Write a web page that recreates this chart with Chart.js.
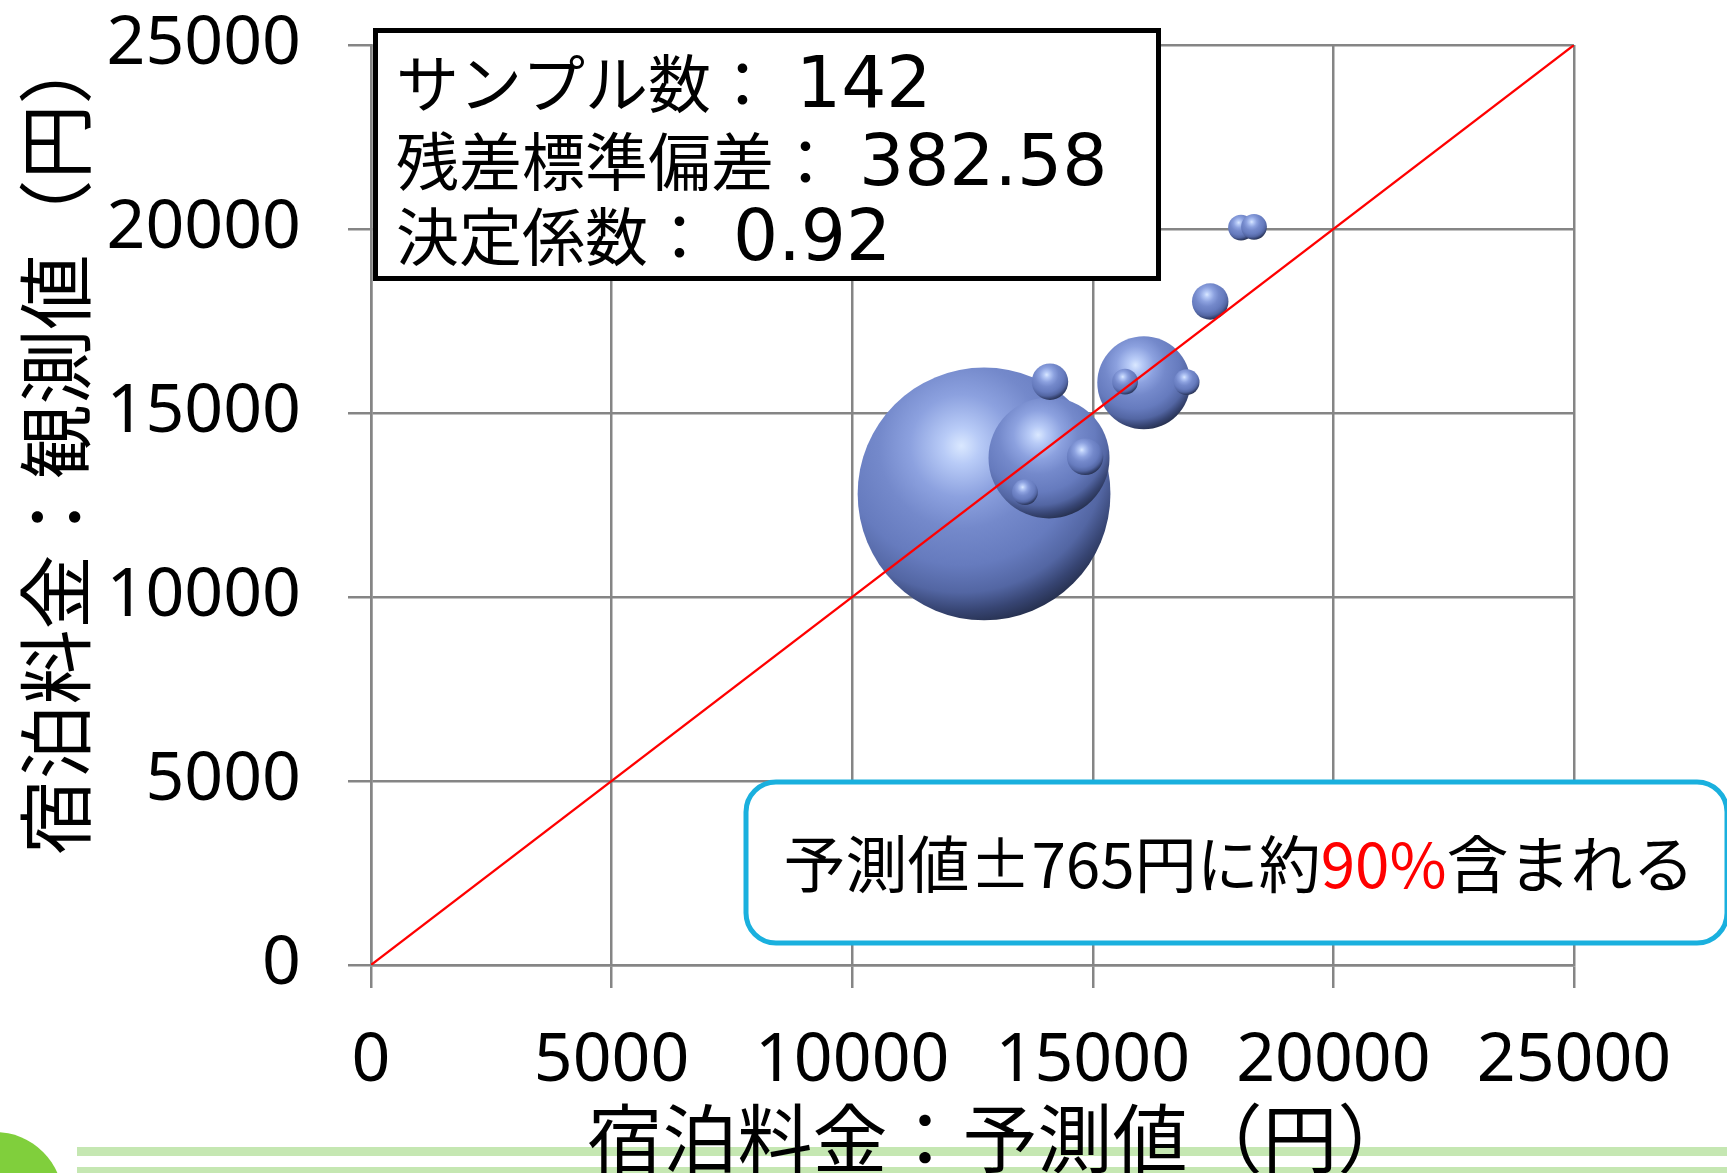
<!DOCTYPE html>
<html lang="ja">
<head>
<meta charset="utf-8">
<title>宿泊料金：予測値と観測値</title>
<script src="https://cdn.jsdelivr.net/npm/chart.js@4.4.1/dist/chart.umd.min.js"></script>
<style>
  html, body { margin: 0; padding: 0; background: #ffffff; }
  #wrap { position: relative; width: 1727px; height: 1173px; overflow: hidden; }
  canvas { display: block; }
</style>
</head>
<body>
<div id="wrap"><canvas id="chart" width="1727" height="1173"></canvas></div>
<script>
// 宿泊料金の予測値（x）と観測値（y）、各バブルの件数
const predicted = [12740, 14090, 16060, 14110, 14840, 17440, 13590, 15670, 16950, 18080, 18350];
const observed  = [12800, 13780, 15820, 15850, 13810, 18030, 12850, 15850, 15840, 20040, 20060];
const counts    = [96, 22, 13, 2, 2, 2, 1, 1, 1, 1, 1];

// 軸の目盛り
const axisTicks = [0, 5000, 10000, 15000, 20000, 25000];

// 回帰の統計量
const residualSD = 382.58;
const r2 = 0.92;
const intervalYen = 765;
const coveragePct = 90;

const sampleCount = counts.reduce((a, b) => a + b, 0);
const axisMin = axisTicks[0];
const axisMax = axisTicks[axisTicks.length - 1];

const JP = '"Noto Sans CJK JP", "Noto Sans", sans-serif';
const GRID = '#858585';
const BASE_BLUE = '#7086c6';
const BUBBLE_UNIT = 12.9;   // 件数1のバブル半径(px)

const bubbles = predicted.map((x, i) => ({ x: x, y: observed[i], r: BUBBLE_UNIT * Math.sqrt(counts[i]) }));
const diagonal = [{ x: axisMin, y: axisMin }, { x: axisMax, y: axisMax }];

// 立体的な球の陰影
function sphereFill(ctx) {
  if (ctx.type !== 'data' || !ctx.raw) return BASE_BLUE;
  const chart = ctx.chart;
  const sx = chart.scales.x, sy = chart.scales.y;
  if (!sx || !sy) return BASE_BLUE;
  const cx = sx.getPixelForValue(ctx.raw.x);
  const cy = sy.getPixelForValue(ctx.raw.y);
  const r = ctx.raw.r;
  if (![cx, cy, r].every(Number.isFinite) || r <= 0) return BASE_BLUE;
  const hx = cx - 0.18 * r, hy = cy - 0.38 * r;
  const g = chart.ctx.createRadialGradient(hx, hy, 0, hx, hy, 1.45 * r);
  g.addColorStop(0.00, '#dae8ff');
  g.addColorStop(0.10, '#b8cbf7');
  g.addColorStop(0.28, '#8ca1df');
  g.addColorStop(0.45, '#7489cb');
  g.addColorStop(0.65, '#667bbe');
  g.addColorStop(0.80, '#5366a3');
  g.addColorStop(0.90, '#374573');
  g.addColorStop(1.00, '#222b46');
  return g;
}

// 背景の装飾（緑のライン）
const backdrop = {
  id: 'backdrop',
  beforeDraw(chart) {
    const c = chart.ctx;
    c.save();
    c.fillStyle = '#ffffff';
    c.fillRect(0, 0, chart.width, chart.height);
    c.fillStyle = '#c5e7b2';
    c.fillRect(77, 1147, chart.width - 77, 9);
    c.fillRect(77, 1167, chart.width - 77, 7);
    c.fillStyle = '#80cf3c';
    c.beginPath();
    c.arc(-5, 1200, 68, 0, Math.PI * 2);
    c.fill();
    c.restore();
  }
};

function roundRect(c, x, y, w, h, rad) {
  c.beginPath();
  c.moveTo(x + rad, y);
  c.lineTo(x + w - rad, y);
  c.arcTo(x + w, y, x + w, y + rad, rad);
  c.lineTo(x + w, y + h - rad);
  c.arcTo(x + w, y + h, x + w - rad, y + h, rad);
  c.lineTo(x + rad, y + h);
  c.arcTo(x, y + h, x, y + h - rad, rad);
  c.lineTo(x, y + rad);
  c.arcTo(x, y, x + rad, y, rad);
  c.closePath();
}

// 統計量の枠・注記・軸タイトル
const annotations = {
  id: 'annotations',
  afterDraw(chart) {
    const c = chart.ctx;
    c.save();

    // 統計量の枠
    c.fillStyle = '#ffffff';
    c.fillRect(375, 30, 784, 249);
    c.strokeStyle = '#000000';
    c.lineWidth = 5;
    c.strokeRect(375.5, 30.5, 783, 248);

    const rows = [
      ['サンプル数：', String(sampleCount)],
      ['残差標準偏差：', residualSD.toFixed(2)],
      ['決定係数：', r2.toFixed(2)]
    ];
    const baselines = [107, 185, 260];
    c.fillStyle = '#000000';
    c.textBaseline = 'alphabetic';
    c.textAlign = 'left';
    rows.forEach((row, i) => {
      c.font = '63px ' + JP;
      c.fillText(row[0], 396, baselines[i]);
      const w = c.measureText(row[0]).width;
      c.font = '71px "DejaVu Sans", sans-serif';
      c.fillText(row[1], 396 + w + 22, baselines[i]);
    });

    // 予測区間の注記
    c.fillStyle = '#ffffff';
    roundRect(c, 746, 782, 981, 161, 30);
    c.fill();
    c.strokeStyle = '#1ab0de';
    c.lineWidth = 5;
    c.stroke();

    const parts = [
      ['予測値±' + intervalYen + '円に約', '#000000'],
      [coveragePct + '%', '#ff0000'],
      ['含まれる', '#000000']
    ];
    c.font = '62px ' + JP;
    const total = parts.reduce((s, p) => s + c.measureText(p[0]).width, 0);
    let px = 1239 - total / 2;
    parts.forEach(p => {
      c.fillStyle = p[1];
      c.fillText(p[0], px, 888);
      px += c.measureText(p[0]).width;
    });

    // 軸タイトル
    c.fillStyle = '#000000';
    c.font = '75px ' + JP;
    c.textAlign = 'center';
    c.textBaseline = 'middle';
    c.fillText('宿泊料金：予測値（円）', 1000, 1138);
    c.translate(55, 442);
    c.rotate(-Math.PI / 2);
    c.fillText('宿泊料金：観測値（円）', 0, 0);

    c.restore();
  }
};

function fixedTicks(scale) {
  scale.ticks = axisTicks.map(v => ({ value: v }));
}
function noScalePadding(scale) {
  scale.paddingTop = 0;
  scale.paddingBottom = 0;
  scale.paddingLeft = 0;
  scale.paddingRight = 0;
}

const tickFont = { family: '"Noto Sans", sans-serif', size: 68 };

new Chart(document.getElementById('chart'), {
  type: 'bubble',
  data: {
    datasets: [
      {
        type: 'line',
        label: 'y = x',
        data: diagonal,
        borderColor: '#ff0000',
        borderWidth: 2.2,
        pointRadius: 0,
        fill: false,
        tension: 0
      },
      {
        type: 'bubble',
        label: '件数',
        data: bubbles,
        backgroundColor: sphereFill,
        borderWidth: 0,
        hoverRadius: 0
      }
    ]
  },
  options: {
    responsive: false,
    animation: false,
    events: [],
    devicePixelRatio: 1,
    layout: { autoPadding: false, padding: { left: 0, top: 45, right: 153, bottom: 0 } },
    plugins: {
      legend: { display: false },
      tooltip: { enabled: false },
      title: { display: false }
    },
    scales: {
      x: {
        type: 'linear',
        min: axisMin,
        max: axisMax,
        afterBuildTicks: fixedTicks,
        afterFit(scale) { scale.height = 208; noScalePadding(scale); },
        ticks: {
          color: '#000000',
          font: tickFont,
          padding: 33,
          maxRotation: 0,
          autoSkip: false,
          callback: v => String(v)
        },
        grid: { color: GRID, lineWidth: 2.5, tickLength: 23, drawTicks: true },
        border: { display: true, color: GRID, width: 2.5 }
      },
      y: {
        type: 'linear',
        min: axisMin,
        max: axisMax,
        afterBuildTicks: fixedTicks,
        afterFit(scale) { scale.width = 371; noScalePadding(scale); },
        ticks: {
          color: '#000000',
          font: tickFont,
          padding: 47,
          autoSkip: false,
          callback: v => String(v)
        },
        grid: { color: GRID, lineWidth: 2.5, tickLength: 23, drawTicks: true },
        border: { display: true, color: GRID, width: 2.5 }
      }
    }
  },
  plugins: [backdrop, annotations]
});
</script>
</body>
</html>
